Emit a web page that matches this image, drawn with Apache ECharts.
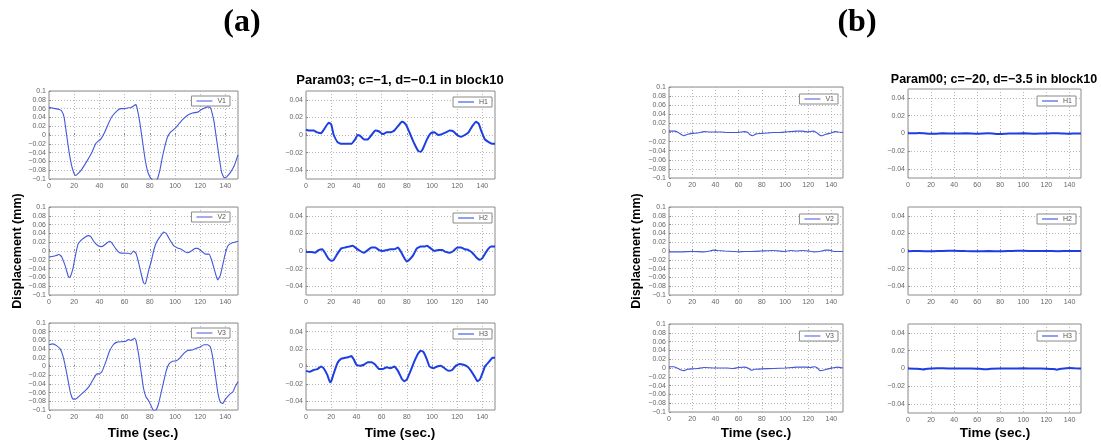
<!DOCTYPE html>
<html>
<head>
<meta charset="utf-8">
<script src="https://cdn.jsdelivr.net/npm/echarts@6/dist/echarts.min.js"></script>
<style>html,body{margin:0;padding:0;background:#fff}#c{width:1101px;height:442px}</style>
</head>
<body>
<div id="c"></div>
<script>
// ---- tick labels ----
const xTicks = [0, 20, 40, 60, 80, 100, 120, 140];
const vTicks = [-0.1, -0.08, -0.06, -0.04, -0.02, 0, 0.02, 0.04, 0.06, 0.08, 0.1];
const hTicks = [-0.04, -0.02, 0, 0.02, 0.04];

// ---- texts ----
const panelLabels = ['(a)', '(b)'];
const titles = ['Param03; c=\u22121, d=\u22120.1 in block10', 'Param00; c=\u221220, d=\u22123.5 in block10'];
const yName = 'Displacement (mm)';
const xName = 'Time (sec.)';

// ---- panel (a) data: [time (sec), displacement (mm)] ----
const aV1 = [[0,0.063],[5,0.06],[8,0.058],[10,0.055],[12,0.04],[14,0.0],[16,-0.04],[18,-0.07],[20,-0.088],[21,-0.092],[23,-0.088],[26,-0.078],[30,-0.06],[34,-0.04],[37,-0.02],[39,-0.014],[41,-0.01],[44,0.005],[47,0.025],[50,0.042],[54,0.055],[57,0.06],[60,0.06],[63,0.062],[65,0.062],[67,0.066],[69,0.069],[70,0.06],[72,0.03],[74,-0.01],[76,-0.05],[78,-0.08],[80,-0.095],[82,-0.102],[84,-0.106],[86,-0.1],[88,-0.08],[90,-0.05],[92,-0.025],[94,-0.005],[96,0.005],[100,0.015],[103,0.025],[106,0.035],[110,0.045],[114,0.05],[118,0.052],[121,0.058],[124,0.062],[126,0.064],[128,0.062],[129,0.055],[131,0.03],[133,-0.01],[135,-0.05],[137,-0.085],[139,-0.097],[141,-0.095],[144,-0.085],[147,-0.07],[150,-0.045]];
const aV2 = [[0,-0.014],[5,-0.011],[8,-0.008],[10,-0.013],[13,-0.035],[15,-0.055],[16,-0.06],[17,-0.058],[19,-0.04],[21,-0.01],[23,0.015],[25,0.023],[28,0.03],[31,0.035],[33,0.033],[36,0.02],[39,0.012],[42,0.01],[45,0.016],[48,0.022],[50,0.018],[53,0.005],[56,-0.004],[60,-0.005],[63,-0.005],[65,-0.007],[67,0.0],[69,-0.005],[71,-0.025],[73,-0.05],[75,-0.072],[76,-0.075],[77,-0.07],[79,-0.045],[81,-0.025],[83,0.0],[85,0.018],[88,0.032],[91,0.043],[93,0.04],[96,0.025],[99,0.012],[102,0.007],[105,0.004],[108,-0.002],[110,-0.004],[113,0.0],[116,0.006],[118,0.006],[121,0.0],[124,-0.007],[127,-0.007],[129,-0.02],[131,-0.04],[133,-0.06],[134,-0.066],[136,-0.055],[138,-0.03],[140,-0.005],[142,0.012],[145,0.018],[150,0.022]];
const aV3 = [[0,0.05],[3,0.052],[6,0.048],[9,0.04],[11,0.025],[13,0.0],[15,-0.03],[17,-0.06],[19,-0.075],[21,-0.075],[24,-0.068],[28,-0.058],[32,-0.045],[35,-0.03],[38,-0.017],[40,-0.017],[42,-0.012],[45,0.01],[48,0.035],[51,0.05],[54,0.056],[58,0.057],[61,0.058],[63,0.062],[65,0.06],[68,0.065],[69,0.06],[71,0.03],[73,-0.01],[75,-0.05],[77,-0.07],[79,-0.078],[81,-0.09],[83,-0.102],[85,-0.1],[87,-0.085],[89,-0.06],[91,-0.035],[93,-0.01],[95,0.005],[98,0.012],[101,0.013],[104,0.02],[107,0.03],[110,0.037],[114,0.038],[117,0.042],[120,0.045],[123,0.05],[126,0.05],[128,0.045],[130,0.02],[132,-0.02],[134,-0.06],[136,-0.082],[138,-0.085],[140,-0.075],[143,-0.065],[146,-0.058],[148,-0.045],[150,-0.035]];
const aH1 = [[0,0.006],[3,0.005],[6,0.005],[9,0.003],[12,0.002],[15,0.008],[18,0.014],[20,0.012],[22,0.0],[25,-0.008],[28,-0.01],[32,-0.01],[36,-0.01],[39,-0.005],[41,0.0],[43,-0.001],[46,-0.005],[49,-0.005],[52,0.0],[55,0.005],[58,0.004],[61,0.001],[64,0.003],[67,0.003],[70,0.005],[73,0.01],[76,0.015],[78,0.014],[80,0.01],[83,0.0],[86,-0.01],[89,-0.018],[91,-0.019],[93,-0.015],[96,-0.005],[99,0.002],[102,0.003],[105,0.0],[108,0.001],[111,0.003],[114,0.005],[117,0.004],[120,0.0],[123,-0.002],[126,0.0],[129,0.003],[132,0.01],[135,0.015],[137,0.013],[139,0.005],[142,-0.005],[145,-0.008],[148,-0.01],[150,-0.01]];
const aH2 = [[0,-0.001],[4,-0.001],[7,-0.002],[10,0.001],[13,0.002],[15,-0.002],[18,-0.009],[20,-0.011],[22,-0.01],[25,-0.003],[28,0.003],[31,0.004],[34,0.005],[37,0.006],[40,0.003],[43,0.0],[46,-0.002],[49,0.001],[52,0.004],[55,0.004],[58,0.001],[61,0.0],[64,0.001],[67,0.002],[70,0.002],[73,0.004],[75,0.0],[78,-0.008],[80,-0.012],[82,-0.01],[85,-0.005],[88,0.003],[91,0.005],[94,0.005],[96,0.006],[99,0.003],[102,0.0],[105,0.001],[108,0.001],[111,-0.001],[114,-0.002],[117,0.0],[120,0.004],[123,0.004],[126,0.002],[129,0.001],[132,-0.002],[135,-0.007],[138,-0.01],[140,-0.008],[143,-0.001],[145,0.003],[147,0.005],[150,0.005]];
const aH3 = [[0,-0.005],[3,-0.006],[6,-0.004],[9,-0.003],[12,0.0],[14,-0.002],[17,-0.01],[19,-0.018],[20,-0.017],[22,-0.008],[25,0.004],[28,0.009],[31,0.01],[34,0.011],[36,0.012],[38,0.008],[40,0.002],[43,0.001],[46,0.002],[49,0.005],[52,0.005],[55,0.002],[58,-0.003],[61,-0.003],[64,-0.001],[67,-0.002],[70,0.0],[73,-0.005],[76,-0.014],[78,-0.017],[80,-0.015],[83,-0.005],[86,0.006],[89,0.015],[91,0.018],[93,0.017],[96,0.008],[98,0.0],[101,-0.002],[104,0.0],[107,0.001],[110,-0.002],[113,-0.005],[116,-0.004],[119,0.001],[122,0.003],[125,0.002],[128,0.0],[131,-0.005],[134,-0.012],[136,-0.017],[138,-0.015],[140,-0.008],[142,0.0],[145,0.005],[148,0.01],[150,0.01]];

// ---- panel (b) data ----
const bV1 = [[0,0.003],[5,0.003],[8,0.0],[11,-0.005],[13,-0.007],[16,-0.004],[20,-0.002],[25,-0.001],[30,0.002],[35,0.001],[40,0.001],[45,0.001],[50,0.0],[55,0.0],[60,0.0],[65,0.002],[68,0.0],[70,-0.005],[72,-0.007],[75,-0.003],[80,-0.002],[85,-0.001],[90,0.0],[95,0.0],[100,0.001],[105,0.002],[110,0.003],[115,0.003],[120,0.001],[124,0.003],[127,0.0],[130,-0.006],[132,-0.007],[135,-0.004],[140,-0.001],[143,0.002],[146,0.001],[150,0.0]];
const bV2 = [[0,-0.002],[10,-0.002],[20,-0.001],[30,-0.002],[35,0.0],[38,0.002],[42,0.001],[48,0.0],[55,-0.001],[60,-0.002],[65,-0.001],[70,-0.001],[80,0.0],[90,0.001],[95,0.0],[100,-0.001],[105,0.001],[110,0.0],[115,0.001],[120,0.0],[125,-0.002],[130,-0.001],[135,0.002],[138,0.002],[142,-0.001],[150,-0.001]];
const bV3 = [[0,0.003],[4,0.003],[7,0.0],[10,-0.004],[13,-0.006],[16,-0.003],[20,-0.002],[25,-0.001],[30,0.001],[40,0.0],[50,0.0],[55,-0.001],[60,0.001],[65,0.002],[68,0.0],[71,-0.005],[74,-0.003],[80,-0.002],[90,-0.001],[100,0.0],[110,0.002],[118,0.002],[122,0.001],[125,0.003],[128,0.0],[130,-0.006],[133,-0.005],[137,-0.002],[141,0.0],[145,0.002],[150,0.0]];
const bH1 = [[0,0.0003],[5,0.0002],[10,0.0006],[15,0.0001],[20,-0.0004],[25,-0.0002],[30,0.0002],[40,0.0],[50,0.0002],[60,-0.0002],[70,0.0002],[80,-0.0005],[85,-0.0002],[90,0.0],[100,0.0002],[110,-0.0002],[120,0.0001],[130,0.0003],[140,-0.0003],[145,0.0001],[150,0.0]];
const bH2 = [[0,-0.0002],[10,0.0],[20,-0.0003],[30,0.0001],[40,0.0002],[50,-0.0001],[60,-0.0003],[70,0.0],[80,-0.0003],[90,0.0001],[100,0.0002],[110,-0.0001],[120,0.0],[130,-0.0002],[140,0.0001],[150,-0.0001]];
const bH3 = [[0,0.0],[8,-0.0003],[13,-0.0012],[17,-0.0002],[25,0.0002],[35,0.0001],[45,0.0],[55,0.0001],[62,-0.0003],[68,-0.0009],[72,-0.0002],[80,0.0001],[90,0.0],[100,0.0002],[110,0.0],[120,-0.0002],[126,-0.0006],[129,-0.0013],[133,-0.0003],[140,0.0006],[145,0.0002],[150,0.0]];

// ---- layout ----
const W = 1101;
const vColor = '#4456da';
const hColor = '#1c3ee2';
const fmt = v => String(+(+v).toFixed(3)).replace('-', '\u2212');

const plots = [
  // name, data, kind, left, top, width, height, legend right margin, legend top margin
  ['V1', aV1, 'V', 49, 91, 189, 88, 8, 5],
  ['V2', aV2, 'V', 49, 207, 189, 88, 8, 5],
  ['V3', aV3, 'V', 49, 323, 189, 87, 8, 5],
  ['H1', aH1, 'H', 306, 91, 189, 88, 3, 6],
  ['H2', aH2, 'H', 306, 207, 189, 88, 3, 6],
  ['H3', aH3, 'H', 306, 323, 189, 87, 3, 6],
  ['V1', bV1, 'V', 669, 87, 174, 91, 5, 7],
  ['V2', bV2, 'V', 669, 207, 174, 88, 5, 7],
  ['V3', bV3, 'V', 669, 324, 174, 88, 5, 7],
  ['H1', bH1, 'H', 908, 89, 173, 89, 5, 7],
  ['H2', bH2, 'H', 908, 207, 173, 88, 5, 7],
  ['H3', bH3, 'H', 908, 324, 173, 89, 5, 7]
];

const grid = [], xAxis = [], yAxis = [], series = [], legend = [];
plots.forEach((p, i) => {
  const [name, data, kind, left, top, width, height, lr, lt] = p;
  const isV = kind === 'V';
  const ticks = isV ? vTicks : hTicks;
  const col = isV ? vColor : hColor;
  grid.push({left, top, width, height, show: true, borderColor: '#8a8a8a', borderWidth: 1, backgroundColor: '#fff'});
  xAxis.push({
    type: 'value', gridIndex: i, min: 0, max: 150,
    axisLine: {show: false},
    axisTick: {show: true, inside: true, length: 2, lineStyle: {color: '#888'}, customValues: xTicks},
    axisLabel: {fontSize: 7, color: '#666', margin: 4, fontFamily: 'Liberation Sans', customValues: xTicks, formatter: fmt},
    splitLine: {show: true, lineStyle: {color: '#b8b8b8', type: [1, 2], width: 1}}
  });
  yAxis.push({
    type: 'value', gridIndex: i, min: isV ? -0.1 : -0.05, max: isV ? 0.1 : 0.05,
    axisLine: {show: false},
    axisTick: {show: true, inside: true, length: 2, lineStyle: {color: '#888'}, customValues: ticks},
    axisLabel: {fontSize: 7, color: '#666', margin: 3, fontFamily: 'Liberation Sans', customValues: ticks, formatter: fmt},
    splitLine: {show: true, lineStyle: {color: '#b8b8b8', type: [1, 2], width: 1}}
  });
  const sid = (i < 6 ? 'a-' : 'b-') + name;
  series.push({
    name: sid, type: 'line', xAxisIndex: i, yAxisIndex: i, data,
    symbol: 'none', smooth: 0.12, clip: true, animation: false,
    lineStyle: {color: col, width: isV ? 1.1 : 2},
    itemStyle: {color: col}
  });
  legend.push({
    data: [{name: sid, icon: 'rect', itemStyle: {color: col}}], right: W - (left + width - lr), top: top + lt,
    orient: 'horizontal', borderColor: '#8a8a8a', borderWidth: 1, backgroundColor: '#fff',
    padding: [1, 4, 1, 5], itemWidth: 16, itemHeight: 1, selectedMode: false,
    formatter: n => n.split('-')[1],
    textStyle: {fontSize: 7, color: '#555', fontFamily: 'Liberation Sans', lineHeight: 8}
  });
});

const bold = (size, fam) => 'bold ' + size + 'px ' + (fam || '"Liberation Sans", Arial, sans-serif');
const graphic = [
  {type: 'text', x: 242, y: 23, style: {text: panelLabels[0], font: bold(32, '"Liberation Serif", "Times New Roman", serif'), fill: '#000', textAlign: 'center', textVerticalAlign: 'middle'}},
  {type: 'text', x: 857, y: 23, style: {text: panelLabels[1], font: bold(32, '"Liberation Serif", "Times New Roman", serif'), fill: '#000', textAlign: 'center', textVerticalAlign: 'middle'}},
  {type: 'text', x: 400, y: 80, style: {text: titles[0], font: bold(13), fill: '#000', textAlign: 'center', textVerticalAlign: 'middle'}},
  {type: 'text', x: 994, y: 80, style: {text: titles[1], font: bold(12.5), fill: '#000', textAlign: 'center', textVerticalAlign: 'middle'}},
  {type: 'text', x: 18, y: 251, rotation: Math.PI / 2, style: {text: yName, font: bold(12.5), fill: '#000', textAlign: 'center', textVerticalAlign: 'middle'}},
  {type: 'text', x: 637, y: 251, rotation: Math.PI / 2, style: {text: yName, font: bold(12.5), fill: '#000', textAlign: 'center', textVerticalAlign: 'middle'}},
  {type: 'text', x: 143, y: 433, style: {text: xName, font: bold(13.5), fill: '#000', textAlign: 'center', textVerticalAlign: 'middle'}},
  {type: 'text', x: 400, y: 433, style: {text: xName, font: bold(13.5), fill: '#000', textAlign: 'center', textVerticalAlign: 'middle'}},
  {type: 'text', x: 756, y: 433, style: {text: xName, font: bold(13.5), fill: '#000', textAlign: 'center', textVerticalAlign: 'middle'}},
  {type: 'text', x: 995, y: 433, style: {text: xName, font: bold(13.5), fill: '#000', textAlign: 'center', textVerticalAlign: 'middle'}}
];

const chart = echarts.init(document.getElementById('c'), null, {renderer: 'canvas'});
chart.setOption({backgroundColor: '#fff', animation: false, grid, xAxis, yAxis, series, legend, graphic});
</script>
</body>
</html>
